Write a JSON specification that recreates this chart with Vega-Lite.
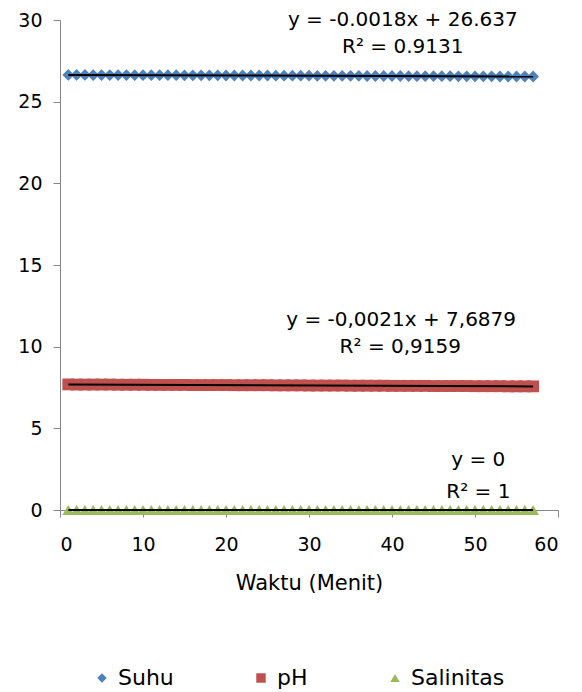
{
  "$schema": "https://vega.github.io/schema/vega-lite/v6.json",
  "width": 498,
  "height": 490,
  "autosize": "none",
  "padding": {"left": 60, "top": 20, "right": 24, "bottom": 182},
  "config": {
    "view": {"stroke": null},
    "font": "DejaVu Sans",
    "axis": {
      "grid": false,
      "domainColor": "#868686",
      "tickColor": "#868686",
      "tickSize": 7,
      "labelFontSize": 19,
      "labelColor": "#000000",
      "titleFontSize": 21,
      "titleFontWeight": "normal",
      "titleColor": "#000000"
    },
    "legend": {"labelFontSize": 22, "labelColor": "#000000"}
  },
  "datasets": {
    "pts": [
      {"x": 1, "Suhu": 26.64, "pH": 7.69, "Salinitas": 0},
      {"x": 2, "Suhu": 26.64, "pH": 7.68, "Salinitas": 0},
      {"x": 3, "Suhu": 26.64, "pH": 7.68, "Salinitas": 0},
      {"x": 4, "Suhu": 26.63, "pH": 7.68, "Salinitas": 0},
      {"x": 5, "Suhu": 26.63, "pH": 7.68, "Salinitas": 0},
      {"x": 6, "Suhu": 26.63, "pH": 7.68, "Salinitas": 0},
      {"x": 7, "Suhu": 26.63, "pH": 7.67, "Salinitas": 0},
      {"x": 8, "Suhu": 26.63, "pH": 7.67, "Salinitas": 0},
      {"x": 9, "Suhu": 26.62, "pH": 7.67, "Salinitas": 0},
      {"x": 10, "Suhu": 26.62, "pH": 7.67, "Salinitas": 0},
      {"x": 11, "Suhu": 26.62, "pH": 7.66, "Salinitas": 0},
      {"x": 12, "Suhu": 26.62, "pH": 7.66, "Salinitas": 0},
      {"x": 13, "Suhu": 26.62, "pH": 7.66, "Salinitas": 0},
      {"x": 14, "Suhu": 26.62, "pH": 7.66, "Salinitas": 0},
      {"x": 15, "Suhu": 26.61, "pH": 7.66, "Salinitas": 0},
      {"x": 16, "Suhu": 26.61, "pH": 7.65, "Salinitas": 0},
      {"x": 17, "Suhu": 26.61, "pH": 7.65, "Salinitas": 0},
      {"x": 18, "Suhu": 26.61, "pH": 7.65, "Salinitas": 0},
      {"x": 19, "Suhu": 26.61, "pH": 7.65, "Salinitas": 0},
      {"x": 20, "Suhu": 26.60, "pH": 7.65, "Salinitas": 0},
      {"x": 21, "Suhu": 26.60, "pH": 7.64, "Salinitas": 0},
      {"x": 22, "Suhu": 26.60, "pH": 7.64, "Salinitas": 0},
      {"x": 23, "Suhu": 26.60, "pH": 7.64, "Salinitas": 0},
      {"x": 24, "Suhu": 26.60, "pH": 7.64, "Salinitas": 0},
      {"x": 25, "Suhu": 26.60, "pH": 7.64, "Salinitas": 0},
      {"x": 26, "Suhu": 26.59, "pH": 7.63, "Salinitas": 0},
      {"x": 27, "Suhu": 26.59, "pH": 7.63, "Salinitas": 0},
      {"x": 28, "Suhu": 26.59, "pH": 7.63, "Salinitas": 0},
      {"x": 29, "Suhu": 26.59, "pH": 7.63, "Salinitas": 0},
      {"x": 30, "Suhu": 26.59, "pH": 7.62, "Salinitas": 0},
      {"x": 31, "Suhu": 26.58, "pH": 7.62, "Salinitas": 0},
      {"x": 32, "Suhu": 26.58, "pH": 7.62, "Salinitas": 0},
      {"x": 33, "Suhu": 26.58, "pH": 7.62, "Salinitas": 0},
      {"x": 34, "Suhu": 26.58, "pH": 7.62, "Salinitas": 0},
      {"x": 35, "Suhu": 26.58, "pH": 7.61, "Salinitas": 0},
      {"x": 36, "Suhu": 26.58, "pH": 7.61, "Salinitas": 0},
      {"x": 37, "Suhu": 26.57, "pH": 7.61, "Salinitas": 0},
      {"x": 38, "Suhu": 26.57, "pH": 7.61, "Salinitas": 0},
      {"x": 39, "Suhu": 26.57, "pH": 7.61, "Salinitas": 0},
      {"x": 40, "Suhu": 26.57, "pH": 7.60, "Salinitas": 0},
      {"x": 41, "Suhu": 26.57, "pH": 7.60, "Salinitas": 0},
      {"x": 42, "Suhu": 26.56, "pH": 7.60, "Salinitas": 0},
      {"x": 43, "Suhu": 26.56, "pH": 7.60, "Salinitas": 0},
      {"x": 44, "Suhu": 26.56, "pH": 7.60, "Salinitas": 0},
      {"x": 45, "Suhu": 26.56, "pH": 7.59, "Salinitas": 0},
      {"x": 46, "Suhu": 26.56, "pH": 7.59, "Salinitas": 0},
      {"x": 47, "Suhu": 26.56, "pH": 7.59, "Salinitas": 0},
      {"x": 48, "Suhu": 26.55, "pH": 7.59, "Salinitas": 0},
      {"x": 49, "Suhu": 26.55, "pH": 7.59, "Salinitas": 0},
      {"x": 50, "Suhu": 26.55, "pH": 7.58, "Salinitas": 0},
      {"x": 51, "Suhu": 26.55, "pH": 7.58, "Salinitas": 0},
      {"x": 52, "Suhu": 26.55, "pH": 7.58, "Salinitas": 0},
      {"x": 53, "Suhu": 26.54, "pH": 7.58, "Salinitas": 0},
      {"x": 54, "Suhu": 26.54, "pH": 7.57, "Salinitas": 0},
      {"x": 55, "Suhu": 26.54, "pH": 7.57, "Salinitas": 0},
      {"x": 56, "Suhu": 26.54, "pH": 7.57, "Salinitas": 0},
      {"x": 57, "Suhu": 26.54, "pH": 7.57, "Salinitas": 0}
    ],
    "eq": [
      {"x": 41.3, "y": 29.97, "label": "y = -0.0018x + 26.637"},
      {"x": 41.3, "y": 28.32, "label": "R² = 0.9131"},
      {"x": 41.1, "y": 11.63, "label": "y = -0,0021x + 7,6879"},
      {"x": 41.0, "y": 9.98, "label": "R² = 0,9159"},
      {"x": 50.4, "y": 3.06, "label": "y = 0"},
      {"x": 50.4, "y": 1.1, "label": "R² = 1"}
    ]
  },
  "layer": [
    {
      "data": {"name": "pts"},
      "transform": [{"fold": ["Suhu", "pH", "Salinitas"], "as": ["series", "value"]}],
      "mark": {"type": "point", "filled": true, "opacity": 1, "size": 140},
      "encoding": {
        "x": {
          "field": "x", "type": "quantitative",
          "scale": {"domain": [0, 60], "nice": false},
          "axis": {"values": [0, 10, 20, 30, 40, 50, 60], "title": "Waktu (Menit)", "labelPadding": 18, "titlePadding": 18}
        },
        "y": {
          "field": "value", "type": "quantitative",
          "scale": {"domain": [0, 30], "nice": false},
          "axis": {"values": [0, 5, 10, 15, 20, 25, 30], "title": null, "labelPadding": 11}
        },
        "color": {
          "field": "series", "type": "nominal",
          "scale": {"domain": ["Suhu", "pH", "Salinitas"], "range": ["#4F81BD", "#C0504D", "#9BBB59"]},
          "legend": {"title": null, "orient": "none", "legendX": 31, "legendY": 647, "direction": "horizontal", "symbolSize": 90, "columnPadding": 76, "labelOffset": 5}
        },
        "shape": {
          "field": "series", "type": "nominal",
          "scale": {"domain": ["Suhu", "pH", "Salinitas"], "range": ["diamond", "square", "triangle-up"]},
          "legend": {"title": null, "orient": "none", "legendX": 31, "legendY": 647, "direction": "horizontal", "symbolSize": 90, "columnPadding": 76, "labelOffset": 5}
        }
      }
    },
    {
      "data": {"name": "pts"},
      "transform": [
        {"fold": ["Suhu", "pH", "Salinitas"], "as": ["series", "value"]},
        {"regression": "value", "on": "x", "groupby": ["series"], "method": "linear"}
      ],
      "mark": {"type": "line", "color": "#000000", "strokeWidth": 2},
      "encoding": {
        "x": {"field": "x", "type": "quantitative"},
        "y": {"field": "value", "type": "quantitative"},
        "detail": {"field": "series", "type": "nominal"}
      }
    },
    {
      "data": {"name": "eq"},
      "mark": {"type": "text", "fontSize": 20, "color": "#000000", "align": "center", "baseline": "middle"},
      "encoding": {
        "x": {"field": "x", "type": "quantitative"},
        "y": {"field": "y", "type": "quantitative"},
        "text": {"field": "label"}
      }
    }
  ]
}
